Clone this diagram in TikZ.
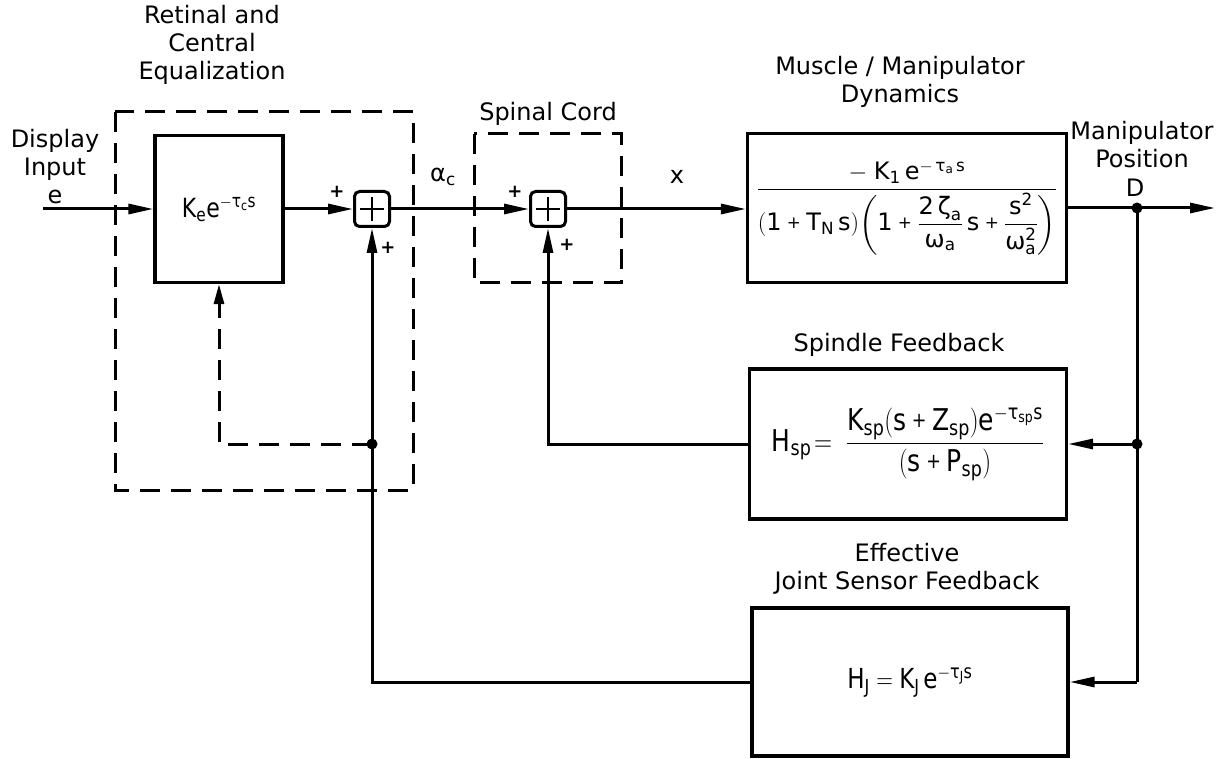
\RequirePackage{fix-cm}
\documentclass[tikz,border=0pt]{standalone}
\usepackage{amsmath}
\usepackage{fontspec}
\setmainfont{DejaVu Sans}
\usetikzlibrary{arrows.meta}
\newcommand\tf[1]{\text{#1}}
\newcommand\pl{\mathbin{\raisebox{0.1em}{\scalebox{0.7}{+}}}}
\newcommand\tall[1]{\scalebox{1}[1.2]{#1}}
\begin{document}
\begin{tikzpicture}[x=1pt,y=-1pt,
  ln/.style={line width=3pt},
  arr/.style={ln,-{Triangle[length=25pt,width=10pt]}},
  blk/.style={draw,line width=3.2pt,inner sep=0pt},
  dsh/.style={line width=3pt,dash pattern=on 20pt off 11pt},
  sumj/.style={draw,line width=3pt,rounded corners=5pt,minimum size=35pt,inner sep=0pt},
  lbl/.style={font=\fontsize{24}{28}\selectfont,align=center,inner sep=0pt},
  pls/.style={font=\fontsize{18}{20}\selectfont\bfseries,inner sep=0pt},
  dot/.style={circle,fill,inner sep=0pt,minimum size=11pt}]
\useasboundingbox (0,0) rectangle (1224,759);

% dashed boxes
\draw[dsh] (115,112) rectangle (413,490);
\draw[dsh] (474,134) rectangle (621,283);

% blocks
\node[blk,minimum width=128pt,minimum height=147pt,font=\fontsize{22}{26}\selectfont] (ke) at (219,209)
  {\tall{$\tf{K}_{\tf{e}}\tf{e}^{-\tf{τ}_{\tf{c}}\tf{s}}$}};
\node[sumj] (s1) at (372,209) {};
\node[sumj] (s2) at (548,209) {};
\foreach \s in {s1,s2}{
  \draw[line width=1.6pt] ([xshift=-12pt]\s.center) -- ([xshift=12pt]\s.center);
  \draw[line width=1.6pt] ([yshift=-12pt]\s.center) -- ([yshift=12pt]\s.center);
}
\node[blk,minimum width=319pt,minimum height=149pt,font=\fontsize{24}{28}\selectfont] (mu) at (907,208)
  {$\dfrac{-\;\tf{K}_{\tf{1}}\,\tf{e}^{-\,\tf{τ}_{\tf{a}}\,\tf{s}}}{(\tf{1}\pl\tf{T}_{\tf{N}}\,\tf{s})\mathopen{}\left(\tf{1}\pl\dfrac{\tf{2\,ζ}_{\tf{a}}}{\tf{ω}_{\tf{a}}}\,\tf{s}\pl\dfrac{\tf{s}^{\tf{2}}}{\tf{ω}_{\tf{a}}^{\tf{2}}}\right)}$};
\node[blk,minimum width=317pt,minimum height=150pt,font=\fontsize{25}{29}\selectfont] (sp) at (908,444)
  {\tall{$\tf{H}_{\tf{sp}}\!=\;\dfrac{\tf{K}_{\tf{sp}}(\tf{s}\pl\tf{Z}_{\tf{sp}})\tf{e}^{-\tf{τ}_{\tf{sp}}\tf{s}}}{(\tf{s}\pl\tf{P}_{\tf{sp}})}$}};
\node[blk,minimum width=316pt,minimum height=148pt,font=\fontsize{23}{27}\selectfont] (hj) at (910,682)
  {\tall{$\tf{H}_{\tf{J}}=\tf{K}_{\tf{J}}\,\tf{e}^{-\tf{τ}_{\tf{J}}\tf{s}}$}};

% coordinates
\coordinate (in) at (43,209);
\coordinate (out) at (1215,208);
\coordinate (dD) at (1137,208);
\coordinate (dS) at (1137,444);
\coordinate (cJ) at (1137,682);
\coordinate (dJ) at (372,444);

% forward path
\draw[arr] (in) -- (ke.west);
\draw[arr] (ke.east) -- (s1.west);
\draw[arr] (s1.east) -- (s2.west);
\draw[arr] (s2.east) -- (mu.west |- s2.east);
\draw[arr] (mu.east |- out) -- (out);

% feedback
\draw[ln] (dD) -- (dS) -- (cJ);
\draw[arr] (dS) -- (sp.east |- dS);
\draw[arr] (cJ) -- (hj.east |- cJ);
\draw[arr] (sp.west |- dS) -| (s2.south);
\draw[arr] (hj.west |- cJ) -| (s1.south);
\draw[dsh,-{Triangle[length=20pt,width=10pt]}] (dJ) -| (ke.south);

\node[dot] at (dD) {};
\node[dot] at (dS) {};
\node[dot] at (dJ) {};

% labels
\node[lbl] (tRet) at (212,45) {Retinal and\\Central\\Equalization};
\node[lbl] (tIn) at (55,167) {Display\\Input\\e};
\node[lbl] (tSp) at (548,114) {Spinal Cord};
\node[lbl] (tMu) at (900,82) {Muscle / Manipulator\\Dynamics};
\node[lbl] (tMa) at (1142,145) {Manipulator\\Position};
\node[lbl] (tD) at (1135,188) {D};
\node[lbl] (tSF) at (899,345) {Spindle Feedback};
\node[lbl] (tJ) at (907,569) {Effective\\Joint Sensor Feedback};
\node[lbl] (tal) at (443,177) {$\tf{α}_{\tf{c}}$};
\node[lbl] (tx) at (677,177) {x};
\node[pls] at (337,192) {+};
\node[pls] at (388,248) {+};
\node[pls] at (515,192) {+};
\node[pls] at (567,245) {+};
\end{tikzpicture}
\end{document}
